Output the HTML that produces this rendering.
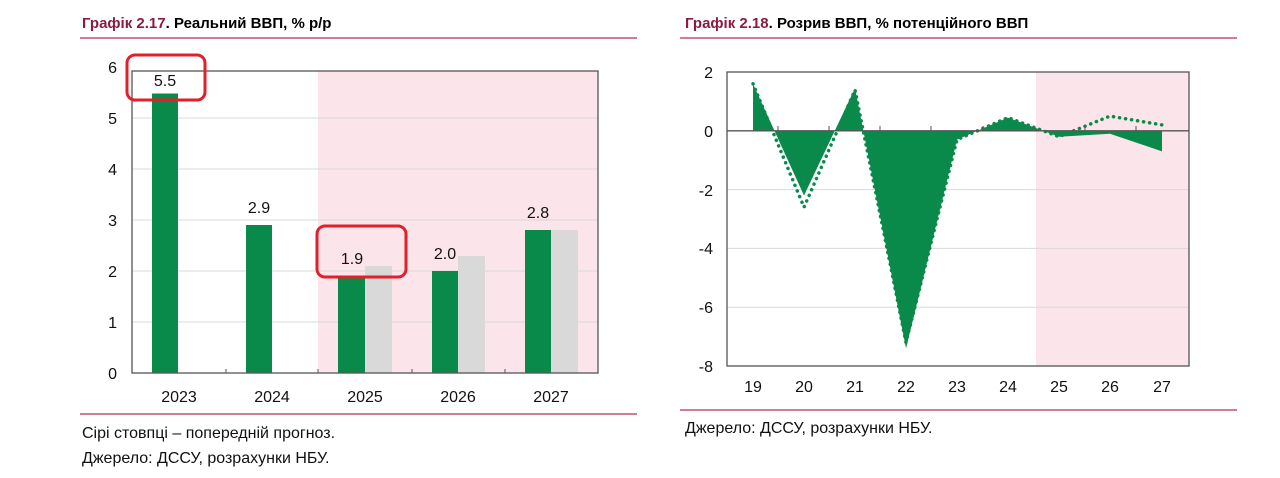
<!DOCTYPE html>
<html><head><meta charset="utf-8"><style>
body{margin:0;background:#fff;width:1280px;height:473px;overflow:hidden}
svg{font-family:"Liberation Sans",Arial,sans-serif}
</style></head><body>
<svg width="1280" height="473" viewBox="0 0 1280 473">
<!-- Left chart -->
<text x="82" y="28" font-size="15" font-weight="bold" fill="#8b1c3f">Графік 2.17<tspan fill="#000">. Реальний ВВП, % р/р</tspan></text>
<line x1="80" y1="38" x2="637" y2="38" stroke="#c0506e" stroke-width="1.5"/>
<rect x="318" y="71" width="280" height="302" fill="#fbe4ea"/>
<g stroke="#d9d9d9" stroke-width="1">
<line x1="132" y1="118" x2="598" y2="118"/><line x1="132" y1="169" x2="598" y2="169"/><line x1="132" y1="220" x2="598" y2="220"/><line x1="132" y1="271" x2="598" y2="271"/><line x1="132" y1="322" x2="598" y2="322"/>
</g>
<g fill="#0a8a4a">
<rect x="152" y="93.5" width="26" height="279.5"/>
<rect x="246" y="225" width="26" height="148"/>
<rect x="338" y="276" width="27" height="97"/>
<rect x="432" y="271" width="26" height="102"/>
<rect x="525" y="230" width="26" height="143"/>
</g>
<g fill="#d9d9d9">
<rect x="365" y="266" width="27" height="107"/>
<rect x="458" y="256" width="27" height="117"/>
<rect x="551" y="230" width="27" height="143"/>
</g>
<rect x="132" y="71" width="466" height="302" fill="none" stroke="#555" stroke-width="1.3"/>
<g stroke="#555"><line x1="226" y1="373" x2="226" y2="369"/><line x1="318" y1="373" x2="318" y2="369"/><line x1="412" y1="373" x2="412" y2="369"/><line x1="505" y1="373" x2="505" y2="369"/></g>
<g font-size="16" text-anchor="end" fill="#111">
<text x="117" y="73">6</text><text x="117" y="124">5</text><text x="117" y="175">4</text><text x="117" y="226">3</text><text x="117" y="277">2</text><text x="117" y="328">1</text><text x="117" y="379">0</text>
</g>
<g font-size="16" text-anchor="middle" fill="#111">
<text x="165" y="86">5.5</text><text x="259" y="213">2.9</text><text x="352" y="264">1.9</text><text x="445" y="259">2.0</text><text x="538" y="218">2.8</text>
<text x="179" y="402">2023</text><text x="272" y="402">2024</text><text x="365" y="402">2025</text><text x="458" y="402">2026</text><text x="551" y="402">2027</text>
</g>
<rect x="127" y="55" width="78" height="45" rx="8" fill="none" stroke="#e0202a" stroke-width="3"/>
<rect x="317" y="226" width="89" height="51" rx="8" fill="none" stroke="#e0202a" stroke-width="3"/>
<line x1="80" y1="414" x2="637" y2="414" stroke="#c0506e" stroke-width="1.5"/>
<text x="82" y="438" font-size="16" fill="#111">Сірі стовпці – попередній прогноз.</text>
<text x="82" y="463" font-size="16" fill="#111">Джерело: ДССУ, розрахунки НБУ.</text>

<!-- Right chart -->
<text x="685" y="28" font-size="15" font-weight="bold" fill="#8b1c3f">Графік 2.18<tspan fill="#000">. Розрив ВВП, % потенційного ВВП</tspan></text>
<line x1="680" y1="38" x2="1237" y2="38" stroke="#c0506e" stroke-width="1.5"/>
<rect x="1036" y="72" width="153" height="294" fill="#fbe4ea"/>
<g stroke="#d9d9d9"><line x1="727" y1="189.6" x2="1189" y2="189.6"/><line x1="727" y1="248.4" x2="1189" y2="248.4"/><line x1="727" y1="307.2" x2="1189" y2="307.2"/></g>
<polygon fill="#0a8a4a" points="753,130.8 753,83.8 804,195.5 855,88.2 906,348.4 957,139.6 1008,117.6 1059,136.7 1110,133.7 1162,151.4 1162,130.8"/>
<polyline fill="none" stroke="#0a8a4a" stroke-width="3.5" stroke-dasharray="0.1 6" stroke-linecap="round" points="753,83.8 804,207.2 855,90 906,342.5 957,139.6 1008,117.6 1059,136.7 1110,116.1 1162,124.9"/>
<line x1="727" y1="130.8" x2="1189" y2="130.8" stroke="#555" stroke-width="1.3"/>
<g stroke="#555"><line x1="778" y1="130.8" x2="778" y2="126"/><line x1="829" y1="130.8" x2="829" y2="126"/><line x1="880" y1="130.8" x2="880" y2="126"/><line x1="931" y1="130.8" x2="931" y2="126"/><line x1="983" y1="130.8" x2="983" y2="126"/><line x1="1034" y1="130.8" x2="1034" y2="126"/><line x1="1085" y1="130.8" x2="1085" y2="126"/><line x1="1136" y1="130.8" x2="1136" y2="126"/></g>
<rect x="727" y="72" width="462" height="294" fill="none" stroke="#555" stroke-width="1.3"/>
<g font-size="16" text-anchor="end" fill="#111">
<text x="713" y="78">2</text><text x="713" y="137">0</text><text x="713" y="196">-2</text><text x="713" y="254">-4</text><text x="713" y="313">-6</text><text x="713" y="372">-8</text>
</g>
<g font-size="16" text-anchor="middle" fill="#111">
<text x="753" y="392">19</text><text x="804" y="392">20</text><text x="855" y="392">21</text><text x="906" y="392">22</text><text x="957" y="392">23</text><text x="1008" y="392">24</text><text x="1059" y="392">25</text><text x="1110" y="392">26</text><text x="1162" y="392">27</text>
</g>
<line x1="680" y1="410" x2="1237" y2="410" stroke="#c0506e" stroke-width="1.5"/>
<text x="685" y="433" font-size="16" fill="#111">Джерело: ДССУ, розрахунки НБУ.</text>
</svg>
</body></html>
